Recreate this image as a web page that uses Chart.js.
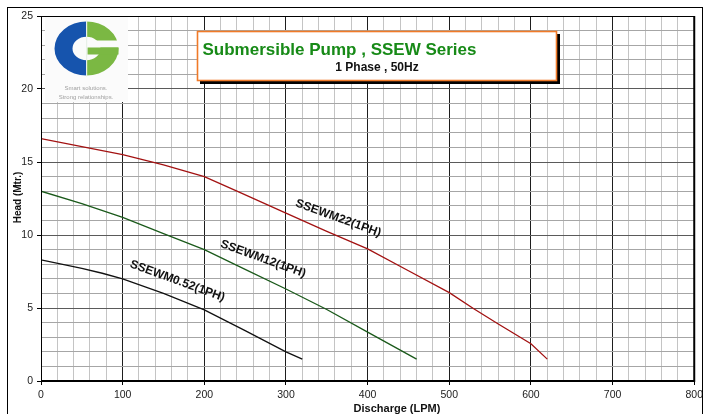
<!DOCTYPE html>
<html><head><meta charset="utf-8">
<script src="https://cdn.jsdelivr.net/npm/chart.js@4.4.0/dist/chart.umd.min.js"></script>
<style>html,body{margin:0;padding:0;background:#fff;overflow:hidden}#wrap{width:707px;height:414px;position:relative}</style>
</head><body><div id="wrap"><canvas id="c" width="707" height="414"></canvas></div>
<script>
// ---- data ----
const seriesNames = ['SSEWM22(1PH)', 'SSEWM12(1PH)', 'SSEWM0.52(1PH)'];
const flowM22  = [0, 50, 100, 150, 200, 240, 300, 350, 400, 450, 500, 530, 560, 600, 620];
const headM22  = [16.6, 16.05, 15.5, 14.8, 14.0, 13.0, 11.5, 10.25, 9.05, 7.55, 6.05, 4.95, 3.9, 2.55, 1.5];
const flowM12  = [0, 50, 100, 150, 200, 250, 300, 350, 400, 460];
const headM12  = [13.0, 12.15, 11.2, 10.1, 9.0, 7.65, 6.3, 4.9, 3.35, 1.5];
const flowM052 = [0, 50, 75, 100, 150, 200, 250, 300, 320];
const headM052 = [8.3, 7.72, 7.38, 7.0, 6.0, 4.87, 3.45, 2.0, 1.5];
const xTickLabels = [0, 100, 200, 300, 400, 500, 600, 700, 800];
const yTickLabels = [0, 5, 10, 15, 20, 25];
const chartTitle = 'Submersible Pump , SSEW Series';
const chartSubtitle = '1 Phase , 50Hz';
const xTitle = 'Discharge (LPM)';
const yTitle = 'Head (Mtr.)';

const toPts = (xs, ys) => xs.map((x, i) => ({x: x, y: ys[i]}));
const FONT = '"Liberation Sans", Arial, sans-serif';

// label anchors in data units (flow, head) and rotation
const curveLabels = [
  {text: seriesNames[0], x: 364, y: 11.15, rot: 20},
  {text: seriesNames[1], x: 272, y: 8.36, rot: 20},
  {text: seriesNames[2], x: 167, y: 6.85, rot: 20}
];

const decor = {
  id: 'decor',
  afterDraw(chart) {
    const ctx = chart.ctx, a = chart.chartArea;
    const xs = chart.scales.x, ys = chart.scales.y;
    ctx.save();
    // outer frame
    ctx.strokeStyle = '#000'; ctx.lineWidth = 1;
    ctx.strokeRect(7.5, 7.5, 695, 420);
    // plot frame
    ctx.beginPath();
    ctx.moveTo(a.left + 0.5, a.top); ctx.lineTo(a.left + 0.5, a.bottom);
    ctx.moveTo(a.left, a.top + 0.5); ctx.lineTo(a.right, a.top + 0.5);
    ctx.stroke();
    ctx.lineWidth = 2;
    ctx.beginPath();
    ctx.moveTo(a.left, a.bottom); ctx.lineTo(a.right + 1, a.bottom);
    ctx.moveTo(a.right, a.top); ctx.lineTo(a.right, a.bottom + 1);
    ctx.stroke();

    // logo
    ctx.fillStyle = '#fbfbfb';
    ctx.fillRect(45, 17, 83, 85);
    const cx = 86.5, cy = 48.5;
    function ring(color, a0, a1) {
      ctx.save();
      ctx.translate(cx, cy);
      ctx.scale(1, 27 / 32);
      ctx.beginPath();
      ctx.arc(0, 0, 32, a0, a1, false);
      ctx.arc(0, 0, 14, a1, a0, true);
      ctx.closePath();
      ctx.fillStyle = color; ctx.fill();
      ctx.restore();
    }
    ring('#1654ad', Math.PI / 2, Math.PI * 1.5);
    ring('#7bb843', -Math.PI / 2, Math.PI / 2);
    ctx.fillStyle = '#fbfbfb';
    ctx.fillRect(cx + 9, cy - 8, 26, 7);
    ctx.fillStyle = '#7bb843';
    ctx.fillRect(cx + 1, cy - 1, 31, 7);
    ctx.fillStyle = '#e8f0e8';
    ctx.fillRect(cx - 0.5, cy - 28, 1.2, 56);
    ctx.fillStyle = '#a0a0a0';
    ctx.font = '6px ' + FONT;
    ctx.textAlign = 'center'; ctx.textBaseline = 'middle';
    ctx.fillText('Smart solutions.', 86, 88);
    ctx.fillText('Strong relationships.', 86, 97);

    // title box
    ctx.fillStyle = '#000';
    ctx.fillRect(200, 34, 360, 50);
    ctx.fillStyle = '#fff';
    ctx.fillRect(197, 31, 360, 50);
    ctx.strokeStyle = '#f07a28'; ctx.lineWidth = 1.6;
    ctx.strokeRect(197.5, 31.5, 359, 49);
    ctx.fillStyle = '#178a17';
    ctx.font = 'bold 17px ' + FONT;
    ctx.textAlign = 'left'; ctx.textBaseline = 'alphabetic';
    ctx.fillText(chartTitle, 202.5, 54.5);
    ctx.fillStyle = '#111';
    ctx.font = 'bold 12px ' + FONT;
    ctx.textAlign = 'center';
    ctx.fillText(chartSubtitle, 377, 71);

    // axis titles
    ctx.font = 'bold 11px ' + FONT;
    ctx.fillText(xTitle, 397, 411.5);
    ctx.save();
    ctx.translate(18, 197.5);
    ctx.rotate(-Math.PI / 2);
    ctx.font = 'bold 10px ' + FONT;
    ctx.textBaseline = 'middle';
    ctx.fillText(yTitle, 0, 0);
    ctx.restore();

    // curve labels
    ctx.font = 'bold 12px ' + FONT;
    ctx.fillStyle = '#111';
    ctx.textAlign = 'center'; ctx.textBaseline = 'middle';
    curveLabels.forEach(l => {
      ctx.save();
      ctx.translate(xs.getPixelForValue(l.x), ys.getPixelForValue(l.y));
      ctx.rotate(l.rot * Math.PI / 180);
      ctx.fillText(l.text, 0, 0);
      ctx.restore();
    });
    ctx.restore();
  }
};

new Chart(document.getElementById('c'), {
  type: 'scatter',
  data: {
    datasets: [
      {label: seriesNames[0], data: toPts(flowM22, headM22), borderColor: '#a31212'},
      {label: seriesNames[1], data: toPts(flowM12, headM12), borderColor: '#1b5a1b'},
      {label: seriesNames[2], data: toPts(flowM052, headM052), borderColor: '#111111'}
    ].map(d => Object.assign(d, {showLine: true, pointRadius: 0, borderWidth: 1.3, tension: 0, fill: false}))
  },
  options: {
    responsive: false,
    animation: false,
    devicePixelRatio: 1,
    layout: {padding: {left: 0, top: 16, right: 11, bottom: 0}},
    plugins: {legend: {display: false}, tooltip: {enabled: false}},
    scales: {
      x: {
        type: 'linear', min: 0, max: 800,
        afterFit: s => { s.height = 33; },
        border: {display: false},
        ticks: {
          stepSize: 20, autoSkip: false, maxRotation: 0, padding: 4,
          color: '#222', font: {family: FONT, size: 10.5},
          callback: v => xTickLabels.includes(v) ? String(v) : ''
        },
        grid: {
          lineWidth: 1, tickLength: 4,
          color: c => (c.tick && xTickLabels.includes(c.tick.value)) ? '#1e1e1e' : '#c4c4c4',
          tickColor: c => (c.tick && xTickLabels.includes(c.tick.value)) ? '#000' : 'rgba(0,0,0,0)'
        }
      },
      y: {
        type: 'linear', min: 0, max: 25,
        afterFit: s => { s.width = 41; },
        border: {display: false},
        ticks: {
          stepSize: 1, autoSkip: false, padding: 4,
          color: '#222', font: {family: FONT, size: 10.5},
          callback: v => yTickLabels.includes(v) ? String(v) : ''
        },
        grid: {
          lineWidth: 1, tickLength: 4,
          color: c => (c.tick && yTickLabels.includes(c.tick.value)) ? '#5a5a5a' : '#a6a6a6',
          tickColor: c => (c.tick && yTickLabels.includes(c.tick.value)) ? '#000' : 'rgba(0,0,0,0)'
        }
      }
    }
  },
  plugins: [decor]
});
</script></body></html>
